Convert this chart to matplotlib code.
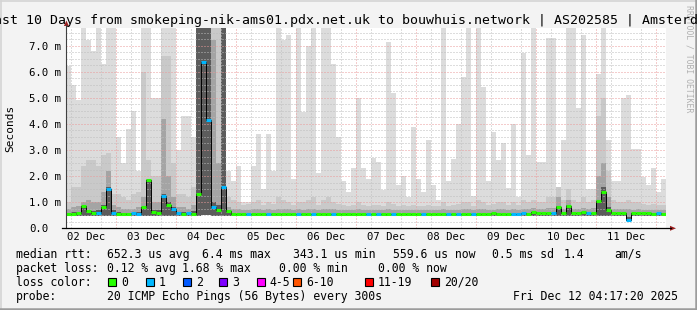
import matplotlib
matplotlib.use("Agg")
import matplotlib.pyplot as plt
import numpy as np
from matplotlib.patches import Rectangle, Polygon

plt.rcParams['font.family'] = ['DejaVu Sans Mono']

W, H, DPI = 697, 310, 100
BG = '#f3f3f3'

# time axis in hours since 02 Dec 00:00, 2 h bins from 04:00
t_begin, t_end = 4.28, 244.28
bin_start, bin_width = 4.0, 2.0

# smoke layers (ms): tops of each grey band, all start at smoke_min
smoke_max = [
    6.2, 5.5, 4.9, 7.7, 7.2, 6.8, 7.7, 6.3, 7.7, 7.7,
    3.5, 2.5, 3.8, 4.5, 2.2, 7.7, 7.7, 5.0, 5.0, 7.7,
    7.7, 7.7, 3.0, 4.3, 4.3, 3.5, 7.7, 7.7, 7.7, 7.7,
    7.7, 7.7, 2.2, 1.8, 2.4, 1.0, 1.0, 2.4, 3.6, 1.5,
    3.6, 2.2, 7.7, 7.2, 7.4, 1.9, 7.7, 4.45, 7.0, 7.7,
    2.1, 7.7, 7.7, 6.3, 3.5, 1.8, 1.4, 2.3, 5.0, 2.3,
    1.9, 2.7, 2.55, 1.45, 7.15, 5.2, 1.65, 2.0, 1.2, 3.9,
    1.9, 1.4, 3.4, 1.65, 1.1, 7.7, 1.8, 2.65, 4.0, 5.8,
    7.7, 1.25, 7.7, 5.4, 1.8, 3.7, 2.6, 3.25, 1.55, 4.0,
    1.2, 6.7, 2.8, 7.7, 2.55, 2.55, 7.3, 7.3, 1.2, 3.4,
    7.7, 7.7, 4.6, 7.4, 1.5, 1.5, 5.9, 7.7, 3.4, 1.8,
    1.8, 5.0, 5.1, 3.05, 3.05, 1.95, 1.65, 2.3, 1.4, 1.9,
]
smoke_hi = [
    1.0, 1.6, 1.6, 2.4, 2.6, 2.6, 2.4, 2.8, 2.9, 1.3,
    1.3, 1.2, 1.1, 1.3, 1.4, 6.0, 2.6, 2.0, 2.0, 6.6,
    6.6, 2.5, 1.3, 1.3, 1.2, 1.6, 7.7, 7.7, 7.7, 7.7,
    7.7, 7.7, 1.2, 1.1, 1.0, 0.9, 0.95, 1.0, 1.1, 0.9,
    1.0, 0.95, 1.2, 1.1, 1.0, 0.9, 1.0, 1.0, 1.1, 1.2,
    0.9, 1.1, 1.2, 1.0, 0.95, 0.9, 0.85, 0.9, 1.0, 0.9,
    0.85, 0.9, 0.9, 0.85, 1.0, 0.95, 0.85, 0.9, 0.85, 0.9,
    0.85, 0.85, 0.9, 0.85, 0.85, 1.0, 0.85, 0.9, 0.95, 1.0,
    1.0, 0.85, 1.1, 1.0, 0.9, 0.95, 1.0, 1.0, 0.9, 1.0,
    0.9, 1.1, 1.0, 1.1, 1.0, 1.0, 1.2, 1.2, 1.6, 1.1,
    1.5, 1.1, 1.0, 1.2, 1.0, 1.1, 4.3, 5.0, 2.2, 1.1,
    1.0, 1.0, 1.1, 1.0, 1.0, 0.95, 0.9, 0.95, 0.9, 0.9,
]
smoke_mid = [
    0.75, 0.8, 0.85, 1.0, 1.1, 1.0, 1.0, 1.4, 2.2, 0.9,
    0.8, 0.75, 0.75, 0.75, 0.8, 1.2, 1.9, 1.0, 1.0, 4.2,
    2.0, 1.2, 0.8, 0.8, 0.75, 0.9, 7.7, 7.7, 7.7, 7.2,
    2.5, 7.7, 0.8, 0.75, 0.74, 0.72, 0.72, 0.73, 0.74, 0.72,
    0.73, 0.72, 0.74, 0.73, 0.73, 0.72, 0.73, 0.72, 0.73, 0.74,
    0.72, 0.73, 0.74, 0.73, 0.72, 0.72, 0.70, 0.72, 0.73, 0.72,
    0.71, 0.72, 0.72, 0.70, 0.73, 0.72, 0.70, 0.72, 0.70, 0.72,
    0.71, 0.70, 0.72, 0.70, 0.70, 0.73, 0.70, 0.72, 0.72, 0.73,
    0.73, 0.70, 0.74, 0.73, 0.72, 0.72, 0.73, 0.73, 0.72, 0.73,
    0.72, 0.74, 0.73, 0.76, 0.73, 0.73, 0.78, 0.78, 1.2, 0.74,
    1.1, 0.74, 0.73, 0.78, 0.73, 0.76, 2.0, 2.5, 1.2, 0.74,
    0.73, 0.73, 0.74, 0.72, 0.73, 0.72, 0.72, 0.72, 0.72, 0.72,
]
smoke_dark = [
    0.6, 0.62, 0.62, 0.85, 0.7, 0.65, 0.7, 0.9, 1.6, 0.7,
    0.62, 0.6, 0.6, 0.6, 0.62, 0.8, 1.85, 0.7, 0.7, 1.3,
    1.0, 0.8, 0.62, 0.62, 0.6, 0.65, 7.7, 7.7, 7.7, 1.0,
    0.9, 7.7, 0.68, 0.6, 0.56, 0.51, 0.51, 0.51, 0.52, 0.51,
    0.51, 0.51, 0.52, 0.51, 0.51, 0.51, 0.51, 0.51, 0.51, 0.52,
    0.51, 0.51, 0.52, 0.51, 0.51, 0.51, 0.50, 0.51, 0.51, 0.51,
    0.51, 0.51, 0.51, 0.50, 0.51, 0.51, 0.50, 0.51, 0.50, 0.51,
    0.51, 0.50, 0.51, 0.50, 0.50, 0.51, 0.50, 0.51, 0.51, 0.51,
    0.51, 0.50, 0.52, 0.51, 0.51, 0.51, 0.51, 0.51, 0.51, 0.51,
    0.51, 0.52, 0.51, 0.54, 0.52, 0.51, 0.53, 0.52, 0.85, 0.51,
    0.88, 0.52, 0.52, 0.54, 0.51, 0.53, 1.1, 1.6, 0.8, 0.52,
    0.51, 0.51, 0.45, 0.51, 0.52, 0.51, 0.51, 0.51, 0.51, 0.51,
]
smoke_min = [
    0.47, 0.47, 0.47, 0.48, 0.47, 0.47, 0.47, 0.48, 0.48, 0.47,
    0.47, 0.46, 0.47, 0.47, 0.47, 0.47, 0.48, 0.47, 0.47, 0.48,
    0.48, 0.47, 0.47, 0.46, 0.47, 0.47, 0.48, 0.5, 0.5, 0.48,
    0.47, 0.48, 0.47, 0.46, 0.46, 0.46, 0.46, 0.46, 0.46, 0.46,
    0.46, 0.46, 0.46, 0.46, 0.46, 0.46, 0.46, 0.46, 0.46, 0.46,
    0.46, 0.46, 0.46, 0.46, 0.46, 0.46, 0.46, 0.46, 0.46, 0.46,
    0.46, 0.46, 0.46, 0.46, 0.46, 0.46, 0.46, 0.46, 0.46, 0.46,
    0.46, 0.46, 0.46, 0.46, 0.46, 0.46, 0.46, 0.46, 0.46, 0.46,
    0.46, 0.46, 0.46, 0.46, 0.46, 0.46, 0.46, 0.46, 0.46, 0.46,
    0.46, 0.46, 0.46, 0.47, 0.46, 0.46, 0.46, 0.46, 0.47, 0.46,
    0.47, 0.46, 0.46, 0.46, 0.46, 0.46, 0.48, 0.48, 0.47, 0.46,
    0.46, 0.46, 0.30, 0.46, 0.46, 0.46, 0.46, 0.46, 0.46, 0.46,
]
median_rtt = [
    0.56, 0.56, 0.57, 0.85, 0.68, 0.57, 0.60, 0.80, 1.50, 0.60,
    0.56, 0.55, 0.56, 0.57, 0.56, 0.80, 1.85, 0.62, 0.60, 1.25,
    0.90, 0.75, 0.58, 0.56, 0.57, 0.56, 1.30, 6.37, 4.15, 0.80,
    0.70, 1.60, 0.67, 0.55, 0.55, 0.56, 0.55, 0.55, 0.56, 0.55,
    0.55, 0.56, 0.56, 0.55, 0.55, 0.55, 0.56, 0.55, 0.55, 0.56,
    0.56, 0.55, 0.55, 0.56, 0.55, 0.56, 0.55, 0.55, 0.56, 0.55,
    0.56, 0.55, 0.56, 0.55, 0.55, 0.56, 0.55, 0.56, 0.55, 0.55,
    0.56, 0.55, 0.55, 0.56, 0.55, 0.55, 0.56, 0.55, 0.56, 0.55,
    0.56, 0.55, 0.55, 0.56, 0.55, 0.57, 0.56, 0.56, 0.55, 0.56,
    0.56, 0.57, 0.56, 0.63, 0.58, 0.57, 0.58, 0.57, 0.80, 0.57,
    0.85, 0.57, 0.58, 0.62, 0.57, 0.60, 1.05, 1.40, 0.70, 0.57,
    0.57, 0.57, 0.32, 0.57, 0.58, 0.57, 0.57, 0.56, 0.57, 0.56,
]
loss_count = [
    0, 0, 0, 0, 0, 0, 1, 0, 1, 1,
    0, 0, 0, 1, 1, 0, 0, 0, 0, 1,
    0, 1, 1, 0, 1, 0, 0, 1, 1, 1,
    0, 1, 0, 0, 0, 0, 1, 0, 0, 0,
    1, 0, 0, 0, 0, 0, 1, 0, 0, 1,
    0, 0, 0, 1, 0, 0, 0, 0, 0, 0,
    1, 0, 1, 0, 0, 1, 0, 0, 0, 0,
    0, 1, 0, 0, 0, 0, 1, 0, 1, 0,
    0, 1, 0, 0, 0, 0, 0, 0, 0, 1,
    1, 1, 0, 0, 0, 0, 0, 1, 0, 0,
    0, 0, 0, 0, 1, 0, 0, 0, 0, 0,
    0, 0, 1, 0, 0, 0, 0, 0, 1, 0,
]

day_labels = ['02 Dec', '03 Dec', '04 Dec', '05 Dec', '06 Dec',
              '07 Dec', '08 Dec', '09 Dec', '10 Dec', '11 Dec']
ytick_labels = ['0.0', '1.0 m', '2.0 m', '3.0 m', '4.0 m', '5.0 m', '6.0 m', '7.0 m']

loss_labels = ['0', '1', '2', '3', '4-5', '6-10', '11-19', '20/20']
loss_colors = ['#26ff00', '#00b8ff', '#0059ff', '#7e00ff',
               '#ff00ff', '#ff5500', '#ff0000', '#a10000']

title = ('Last 10 Days from smokeping-nik-ams01.pdx.net.uk to '
         'bouwhuis.network | AS202585 | Amsterdam')
rtt_stats = ['652.3 us avg', '6.4 ms max', '343.1 us min', '559.6 us now',
             '0.5 ms sd', '1.4', 'am/s']
loss_stats = ['0.12 % avg', '1.68 % max', '0.00 % min', '0.00 % now']
probe_text = '20 ICMP Echo Pings (56 Bytes) every 300s'
stamp = 'Fri Dec 12 04:17:20 2025'

# ---------------------------------------------------------------
fig = plt.figure(figsize=(W / DPI, H / DPI), dpi=DPI, facecolor=BG)

px_per_ms = 26.1
ax = fig.add_axes([66.4 / W, (H - 228.3) / H, 600 / W, 200.3 / H])
ax.set_facecolor('white')
ax.set_xlim(t_begin, t_end)
ax.set_ylim(0, 200.3 / px_per_ms)
for s in ax.spines.values():
    s.set_visible(False)

edges = bin_start + bin_width * np.arange(len(median_rtt) + 1)
edges[-1] = t_end
base = np.array(smoke_min)

layers = [(smoke_max, '#dcdcdc'), (smoke_hi, '#c9c9c9'),
          (smoke_mid, '#a4a4a4'), (smoke_dark, '#5c5c5c')]
for top, col in layers:
    ax.stairs(top, edges, baseline=base, fill=True, color=col, lw=0, zorder=1)

# median: thin black step line plus loss-coloured segments
ax.stairs(median_rtt, edges, baseline=None, color='black', lw=0.7, zorder=3)
seg_cols = [loss_colors[c] for c in loss_count]
ax.hlines(median_rtt, edges[:-1], edges[1:], colors=seg_cols, lw=2.2, zorder=4)

# grid
dot = (0, (1, 2))
ax.set_axisbelow(False)
ax.set_yticks(range(8), ytick_labels)
ax.set_yticks([v for v in np.arange(0.25, 7.7, 0.25) if v % 1], minor=True)
noon = [12 + 24 * d for d in range(len(day_labels))]
ax.set_xticks(noon, day_labels)
ax.set_xticks([h for h in range(6, 246, 6) if h % 24], minor=True)
ax.grid(True, axis='y', which='major', color='#eb9a9a', linestyle=dot, lw=0.72)
ax.grid(True, axis='y', which='minor', color='#bdbdbd', linestyle=dot, lw=0.72)
ax.grid(True, axis='x', which='minor', color='#bdbdbd', linestyle=dot, lw=0.72)
for h in range(24, 245, 24):
    ax.axvline(h, color='#eb9a9a', linestyle=dot, lw=0.72, zorder=2.5)

ax.tick_params(which='both', length=0)
ax.tick_params(axis='y', pad=37.4 * 72 / DPI, labelsize=7.7)
ax.tick_params(axis='x', pad=3.0, labelsize=7.6)
for lbl in ax.get_yticklabels():
    lbl.set_horizontalalignment('left')

# ---------------------------------------------------------------
# overlay in pixel coordinates for frame, axes arrows and legend
ov = fig.add_axes([0, 0, 1, 1])
ov.set_xlim(0, W)
ov.set_ylim(H, 0)
ov.axis('off')

ov.plot([0.5, W - 1], [0.5, 0.5], color='#d4d4d4', lw=1.2)
ov.plot([0.5, 0.5], [0.5, H - 1], color='#d4d4d4', lw=1.2)
ov.plot([0, W], [H - 1.2, H - 1.2], color='#9c9c9c', lw=1.8)
ov.plot([W - 1.2, W - 1.2], [0, H], color='#9c9c9c', lw=1.8)

ov.plot([66.4, 66.4], [228.3, 25], color='#404040', lw=0.8)
ov.plot([62, 671], [228.3, 228.3], color='black', lw=0.9)
ov.add_patch(Polygon([(63.9, 26), (68.9, 26), (66.4, 20.5)], closed=True,
                     color='#9b2020', lw=0))
ov.add_patch(Polygon([(670, 225.8), (670, 230.8), (676, 228.3)], closed=True,
                     color='#9b2020', lw=0))

ov.text(689, 5, 'RRDTOOL / TOBI OETIKER', rotation=270, ha='center', va='top',
        fontsize=5.9, color='#b0b0b0')
# the title is wider than the image, as in the original it runs past both edges
ov.text(-14.5, 24, title, ha='left', va='baseline', fontsize=9.5, color='black')
ov.text(10, 128, 'Seconds', rotation=90, ha='center', va='center', fontsize=8.0)

fs = 8.3
rows_y = [257.7, 271.7, 285.7, 299.7]
ov.text(16, rows_y[0], 'median rtt:', fontsize=fs, va='baseline')
for txt, x in zip(rtt_stats, [107, 201.5, 293, 393, 491.5, 564, 614]):
    ov.text(x, rows_y[0], txt, fontsize=fs, va='baseline')
ov.text(16, rows_y[1], 'packet loss:', fontsize=fs, va='baseline')
for txt, x in zip(loss_stats, [107, 181.5, 279, 378]):
    ov.text(x, rows_y[1], txt, fontsize=fs, va='baseline')
ov.text(16, rows_y[2], 'loss color:', fontsize=fs, va='baseline')
box_x = [108.3, 145.7, 182.7, 219.3, 256.7, 293.3, 365, 430.7]
for lab, col, bx in zip(loss_labels, loss_colors, box_x):
    ov.add_patch(Rectangle((bx, 278), 8, 8, facecolor=col, edgecolor='black', lw=0.8))
    ov.text(bx + 13, rows_y[2], lab, fontsize=fs, va='baseline')
ov.text(16, rows_y[3], 'probe:', fontsize=fs, va='baseline')
ov.text(107, rows_y[3], probe_text, fontsize=fs, va='baseline')
ov.text(513, rows_y[3], stamp, fontsize=fs, va='baseline')

fig.savefig('out.png', dpi=DPI, facecolor=BG)
